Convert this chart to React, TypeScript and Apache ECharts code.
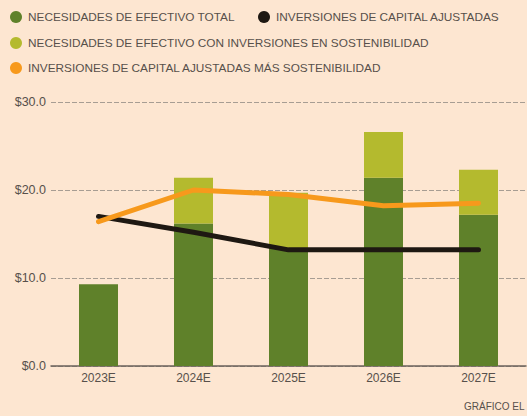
import React, { useEffect, useRef } from "react";
import * as echarts from "echarts";

const categories = ["2023E", "2024E", "2025E", "2026E", "2027E"];
const efectivoTotal = [9.3, 16.2, 13.4, 21.4, 17.2];
const incrementoSostenibilidad = [0, 5.2, 6.3, 5.2, 5.1];
const capitalAjustadas = [17.0, 15.2, 13.2, 13.2, 13.2];
const capitalMasSostenibilidad = [16.4, 20.0, 19.5, 18.2, 18.5];
const yTicks = [0, 10, 20, 30];

const NAME_TOTAL = "NECESIDADES DE EFECTIVO TOTAL";
const NAME_SOST = "NECESIDADES DE EFECTIVO CON INVERSIONES EN SOSTENIBILIDAD";
const NAME_CAP = "INVERSIONES DE CAPITAL AJUSTADAS";
const NAME_CAPS = "INVERSIONES DE CAPITAL AJUSTADAS MÁS SOSTENIBILIDAD";

const BG = "#fde6d1";
const DARK = "#5f812a";
const LIGHT = "#b4ba2e";
const ORANGE = "#f7991c";
const BLACK = "#1e1812";
const TEXT = "#57504b";
const FONT = "'Liberation Sans', sans-serif";

export default function App() {
  const ref = useRef<HTMLDivElement>(null);
  useEffect(() => {
    if (!ref.current) return;
    const chart = echarts.init(ref.current, undefined, { renderer: "svg" });
    const legendBase = {
      icon: "circle",
      itemWidth: 12,
      itemHeight: 12,
      padding: 0,
      textStyle: { color: TEXT, fontSize: 11.8, fontFamily: FONT, padding: [0, 0, 0, 1] },
    };
    chart.setOption({
      animation: false,
      backgroundColor: BG,
      legend: [
        { ...legendBase, left: 10, top: 11, data: [NAME_TOTAL] },
        { ...legendBase, left: 258, top: 11, data: [NAME_CAP] },
        { ...legendBase, left: 10, top: 37, data: [NAME_SOST] },
        { ...legendBase, left: 10, top: 62, data: [NAME_CAPS] },
      ],
      grid: { left: 51, width: 475, top: 102, height: 264 },
      xAxis: {
        type: "category",
        data: categories,
        axisLine: { lineStyle: { color: "#6b625b", width: 1.5 } },
        axisTick: { show: false },
        axisLabel: { color: TEXT, fontSize: 12, fontFamily: FONT, margin: 6 },
      },
      yAxis: {
        type: "value",
        min: yTicks[0],
        max: yTicks[yTicks.length - 1],
        interval: 10,
        axisLine: { show: false },
        axisTick: { show: false },
        splitLine: { lineStyle: { color: "#a79d93", type: [5, 2], width: 1 } },
        axisLabel: {
          color: TEXT,
          fontSize: 12.5,
          fontFamily: FONT,
          margin: 5,
          formatter: (v: number) => "$" + v.toFixed(1),
        },
      },
      series: [
        {
          name: NAME_TOTAL,
          type: "bar",
          stack: "cash",
          data: efectivoTotal,
          barWidth: 39,
          itemStyle: { color: DARK },
        },
        {
          name: NAME_SOST,
          type: "bar",
          stack: "cash",
          data: incrementoSostenibilidad,
          barWidth: 39,
          itemStyle: { color: LIGHT },
        },
        {
          name: NAME_CAP,
          type: "line",
          data: capitalAjustadas,
          showSymbol: false,
          symbol: "circle",
          itemStyle: { color: BLACK },
          lineStyle: { color: BLACK, width: 5, cap: "round", join: "round" },
          z: 3,
        },
        {
          name: NAME_CAPS,
          type: "line",
          data: capitalMasSostenibilidad,
          showSymbol: false,
          symbol: "circle",
          itemStyle: { color: ORANGE },
          lineStyle: { color: ORANGE, width: 5, cap: "round", join: "round" },
          z: 4,
        },
      ],
      graphic: [
        {
          type: "text",
          left: 464,
          top: 401,
          style: { text: "GRÁFICO EL", fill: TEXT, fontSize: 10, fontFamily: FONT },
        },
      ],
    });
    return () => chart.dispose();
  }, []);
  return <div ref={ref} style={{ width: 527, height: 416, position: "fixed", left: 0, top: 0 }} />;
}
